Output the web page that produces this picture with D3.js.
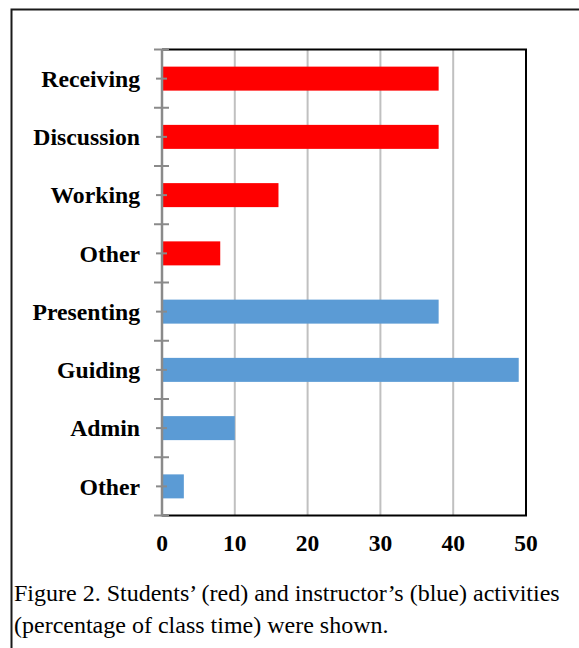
<!DOCTYPE html>
<html>
<head>
<meta charset="utf-8">
<script src="https://cdn.jsdelivr.net/npm/d3@7/dist/d3.min.js"></script>
<style>
  html, body { margin: 0; padding: 0; background: #fff; }
  svg { display: block; }
</style>
</head>
<body>
<svg id="chart" width="579" height="648"></svg>
<script>
// Activity categories, top to bottom, with share of class time (%)
const categories = ["Receiving", "Discussion", "Working", "Other", "Presenting", "Guiding", "Admin", "Other"];
const values = [38, 38, 16, 8, 38, 49, 10, 3];
// Who performs the activity: students (red) or instructor (blue)
const groups = ["student", "student", "student", "student", "instructor", "instructor", "instructor", "instructor"];
const xTicks = [0, 10, 20, 30, 40, 50];
const captionLines = [
  "Figure 2. Students\u2019 (red) and instructor\u2019s (blue) activities",
  "(percentage of class time) were shown."
];

const colors = { student: "#ff0000", instructor: "#5b9bd5" };
const serif = "'Liberation Serif', 'Times New Roman', serif";

const svg = d3.select("#chart");
const plot = { left: 162, right: 526, top: 49.5, bottom: 515.5 };

// Outer figure frame (top and left edges)
svg.append("path")
  .attr("d", `M11.5,648 V9.5 H579`)
  .attr("fill", "none")
  .attr("stroke", "#1a1a1a")
  .attr("stroke-width", 2);

const rows = categories.map((c, i) => ({ key: i, label: c, value: values[i], group: groups[i] }));

const x = d3.scaleLinear().domain([0, 50]).range([plot.left, plot.right]);
const y = d3.scaleBand()
  .domain(rows.map(d => d.key))
  .range([plot.top, plot.bottom])
  .paddingInner(0.588)
  .paddingOuter(0.294);

// Vertical gridlines
svg.append("g")
  .selectAll("line")
  .data(xTicks.filter(t => t > 0 && t < 50))
  .join("line")
  .attr("x1", d => x(d)).attr("x2", d => x(d))
  .attr("y1", plot.top).attr("y2", plot.bottom)
  .attr("stroke", "#c0c0c0")
  .attr("stroke-width", 2);

// Plot border: top, right and bottom in black
svg.append("path")
  .attr("d", `M${plot.left},${plot.top} H${plot.right} V${plot.bottom} H${plot.left}`)
  .attr("fill", "none")
  .attr("stroke", "#000")
  .attr("stroke-width", 2);

// Bars
svg.append("g")
  .selectAll("rect")
  .data(rows)
  .join("rect")
  .attr("x", x(0))
  .attr("y", d => y(d.key))
  .attr("width", d => x(d.value) - x(0))
  .attr("height", y.bandwidth())
  .attr("fill", d => colors[d.group]);

// Category axis (gray) with ticks at band boundaries and centres
const step = y.step();
const boundaries = d3.range(rows.length + 1).map(i => plot.top + i * step);
const yAxis = svg.append("g").attr("stroke", "#8a8a8a");
yAxis.append("line")
  .attr("x1", plot.left).attr("x2", plot.left)
  .attr("y1", plot.top).attr("y2", plot.bottom + 1)
  .attr("stroke-width", 2.5);
yAxis.selectAll("line.bnd")
  .data(boundaries)
  .join("line")
  .attr("class", "bnd")
  .attr("x1", plot.left - 8).attr("x2", plot.left + 7)
  .attr("y1", d => d).attr("y2", d => d)
  .attr("stroke-width", 2);
yAxis.selectAll("line.ctr")
  .data(rows)
  .join("line")
  .attr("class", "ctr")
  .attr("x1", plot.left - 6).attr("x2", plot.left + 5)
  .attr("y1", d => y(d.key) + y.bandwidth() / 2)
  .attr("y2", d => y(d.key) + y.bandwidth() / 2)
  .attr("stroke-width", 2);

// Category labels
svg.append("g")
  .selectAll("text")
  .data(rows)
  .join("text")
  .attr("x", 140)
  .attr("y", d => y(d.key) + y.bandwidth() / 2)
  .attr("dy", "0.35em")
  .attr("text-anchor", "end")
  .attr("font-family", serif)
  .attr("font-weight", "bold")
  .attr("font-size", 23.7)
  .attr("fill", "#000")
  .text(d => d.label);

// Value axis labels
svg.append("g")
  .selectAll("text")
  .data(xTicks)
  .join("text")
  .attr("x", d => x(d))
  .attr("y", 551)
  .attr("text-anchor", "middle")
  .attr("font-family", serif)
  .attr("font-weight", "bold")
  .attr("font-size", 23.5)
  .attr("fill", "#000")
  .text(d => d);

// Caption
svg.append("g")
  .selectAll("text")
  .data(captionLines)
  .join("text")
  .attr("x", 14)
  .attr("y", (d, i) => 601 + i * 32)
  .attr("font-family", serif)
  .attr("font-size", 24)
  .attr("fill", "#000")
  .text(d => d);
</script>
</body>
</html>
